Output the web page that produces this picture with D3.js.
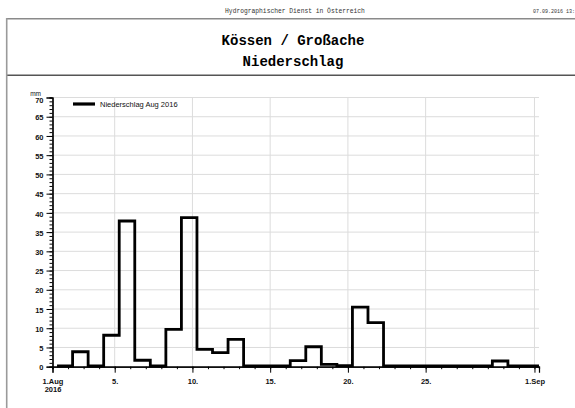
<!DOCTYPE html>
<html>
<head>
<meta charset="utf-8">
<script src="https://cdn.jsdelivr.net/npm/d3@7"></script>
<style>
  html, body { margin: 0; padding: 0; background: #fff; }
  svg { display: block; }
</style>
</head>
<body>
<svg id="chart" width="575" height="408"></svg>
<script>
// ---- data ----
const headerText = "Hydrographischer Dienst in Österreich";
const dateText = "07.09.2016 13:";
const titleLines = ["Kössen / Großache", "Niederschlag"];
const seriesName = "Niederschlag Aug 2016";
const unitLabel = "mm";
// daily precipitation (mm), day interval 07:00 -> 07:00, Aug 1 .. Aug 31
const days = d3.range(1, 32);
const precip = [0, 3.7, 0, 8.0, 37.7, 1.5, 0, 9.5, 38.6, 4.3, 3.5, 6.9, 0, 0, 0, 1.4, 5.0, 0.4, 0.1, 15.3, 11.3, 0, 0, 0, 0, 0, 0, 0, 1.3, 0, 0];
const yTicks = [0, 5, 10, 15, 20, 25, 30, 35, 40, 45, 50, 55, 60, 65, 70];
const xTickDays = [1, 5, 10, 15, 20, 25, 32];
const xTickLabels = ["1.Aug\n2016", "5.", "10.", "15.", "20.", "25.", "1.Sep"];

// ---- setup ----
const svg = d3.select("#chart");
const day = d => new Date(Date.UTC(2016, 7, d, 0, 0));
const dayStart = d => new Date(Date.UTC(2016, 7, d, 7, 0));

const x = d3.scaleUtc()
  .domain([day(1), new Date(Date.UTC(2016, 8, 1, 7, 0))])
  .range([52.5, 539]);
const y = d3.scaleLinear().domain([0, 70]).range([366.7, 97.5]);

// ---- frame ----
svg.append("line").attr("x1", 6).attr("x2", 575).attr("y1", 18.7).attr("y2", 18.7)
  .attr("stroke", "#8a8a8a").attr("stroke-width", 1.6);
svg.append("line").attr("x1", 6).attr("x2", 575).attr("y1", 75.3).attr("y2", 75.3)
  .attr("stroke", "#555").attr("stroke-width", 1.4);
svg.append("line").attr("x1", 6.7).attr("x2", 6.7).attr("y1", 18).attr("y2", 408)
  .attr("stroke", "#9a9a9a").attr("stroke-width", 1.6);

// ---- header texts ----
svg.append("text").attr("x", 295).attr("y", 12.5).attr("text-anchor", "middle")
  .attr("font-family", "Liberation Mono").attr("font-size", 6.3).attr("fill", "#333")
  .text(headerText);
svg.append("text").attr("x", 533).attr("y", 12.5)
  .attr("font-family", "Liberation Mono").attr("font-size", 5).attr("fill", "#333")
  .text(dateText);
titleLines.forEach((t, i) => {
  svg.append("text").attr("x", 293).attr("y", i === 0 ? 44.7 : 65.7).attr("text-anchor", "middle")
    .attr("font-family", "Liberation Mono").attr("font-weight", "bold").attr("font-size", 14)
    .attr("fill", "#000").text(t);
});

// ---- grid ----
const grid = svg.append("g");
grid.selectAll(".hg").data(yTicks.filter(v => v > 0)).join("line")
  .attr("x1", x.range()[0]).attr("x2", x.range()[1])
  .attr("y1", d => y(d)).attr("y2", d => y(d))
  .attr("stroke", "#dcdcdc").attr("stroke-width", 1);
grid.selectAll(".vg").data(xTickDays.filter(d => d > 1)).join("line")
  .attr("x1", d => x(day(d))).attr("x2", d => x(day(d)))
  .attr("y1", y(70)).attr("y2", y(0))
  .attr("stroke", "#dcdcdc").attr("stroke-width", 1);

// ---- axes ----
const yAxisMinor = d3.axisLeft(y).tickValues(d3.range(0, 71, 1)).tickSize(3).tickFormat("");
const yAxisMajor = d3.axisLeft(y).tickValues(yTicks).tickSize(6).tickPadding(3);
const gy1 = svg.append("g").attr("transform", `translate(${x.range()[0]},0)`).call(yAxisMinor);
const gy2 = svg.append("g").attr("transform", `translate(${x.range()[0]},0)`).call(yAxisMajor);
[gy1, gy2].forEach(g => {
  g.selectAll("path").attr("stroke", "#000").attr("stroke-width", 1.2);
  g.selectAll("line").attr("stroke", "#000").attr("stroke-width", 1);
});
gy2.selectAll("text").attr("font-family", "Liberation Sans").attr("font-weight", "bold")
  .attr("font-size", 7.5).attr("fill", "#111").attr("dy", "0.42em");
gy2.selectAll(".tick").filter(d => d === 70).select("text").attr("dy", "0.62em");

svg.append("text").attr("x", 41).attr("y", 96).attr("text-anchor", "end")
  .attr("font-family", "Liberation Sans").attr("font-size", 6.5).attr("fill", "#111")
  .text(unitLabel);

const xAxisMinor = d3.axisBottom(x).tickValues(days.map(day).concat([day(32)])).tickSize(2.5).tickFormat("");
const xAxisMajor = d3.axisBottom(x).tickValues(xTickDays.map(day)).tickSize(6).tickFormat((d, i) => "");
const gx1 = svg.append("g").attr("transform", `translate(0,${y(0)})`).call(xAxisMinor);
const gx2 = svg.append("g").attr("transform", `translate(0,${y(0)})`).call(xAxisMajor);
[gx1, gx2].forEach(g => {
  g.selectAll("path").attr("stroke", "#000").attr("stroke-width", 1.2);
  g.selectAll("line").attr("stroke", "#000").attr("stroke-width", 1);
});
gx2.selectAll(".tick").each(function(d, i) {
  const lines = xTickLabels[i].split("\n");
  const t = d3.select(this).select("text")
    .attr("font-family", "Liberation Sans").attr("font-weight", "bold")
    .attr("font-size", 7.5).attr("fill", "#111").attr("y", 0).attr("dy", null);
  lines.forEach((l, j) => {
    t.append("tspan").attr("x", 0).attr("y", 17.5 + j * 7.8).text(l);
  });
});

// ---- step line ----
const pts = precip.map((v, k) => [dayStart(days[k]), v]);
pts.push([dayStart(32), precip[precip.length - 1]]);
const line = d3.line().x(d => x(d[0])).y(d => y(d[1]) - 0.7).curve(d3.curveStepAfter);
svg.append("path").datum(pts).attr("d", line)
  .attr("fill", "none").attr("stroke", "#000").attr("stroke-width", 2.8)
  .attr("stroke-linejoin", "miter");

// ---- legend ----
svg.append("line").attr("x1", 73).attr("x2", 95).attr("y1", 104).attr("y2", 104)
  .attr("stroke", "#000").attr("stroke-width", 3.2);
svg.append("text").attr("x", 100).attr("y", 106.5)
  .attr("font-family", "Liberation Sans").attr("font-size", 7.5).attr("fill", "#111")
  .text(seriesName);
</script>
</body>
</html>
